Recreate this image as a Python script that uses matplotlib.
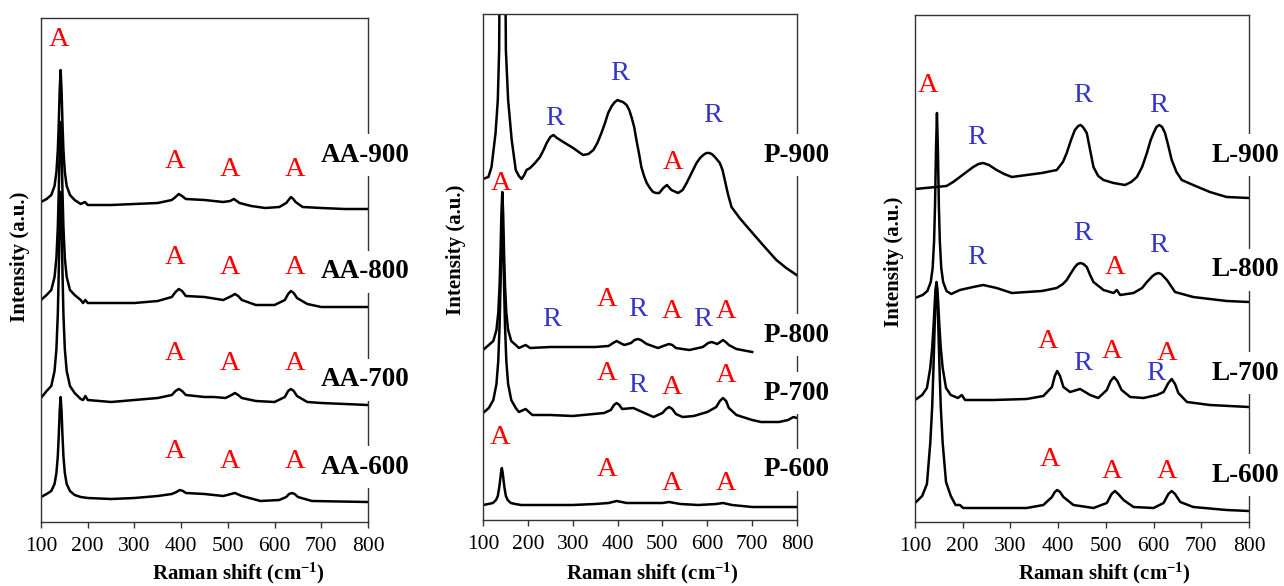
import matplotlib
matplotlib.use("Agg")
import matplotlib.pyplot as plt

plt.rcParams['font.family'] = ['Liberation Serif', 'DejaVu Serif']
plt.rcParams['mathtext.fontset'] = 'custom'
plt.rcParams['mathtext.rm'] = 'Liberation Serif:bold'
plt.rcParams['mathtext.it'] = 'Liberation Serif:bold'
plt.rcParams['mathtext.bf'] = 'Liberation Serif:bold'

# ---------------- data (Raman shift in cm-1, intensity in a.u.) ----------------
x_ticks = [100, 200, 300, 400, 500, 600, 700, 800]

# Panel AA
aa900_x = [100, 112, 122, 129, 133, 136, 138, 140, 142, 144, 146, 148, 151, 155, 162, 172, 185, 194, 200,
           250, 300, 350, 380, 388, 395, 402, 410, 450, 490, 505, 513, 525, 550, 580, 610, 625, 630, 635, 640,
           645, 660, 700, 750, 800]
aa900_y = [320, 323, 327, 336, 350, 372, 398, 432, 452, 432, 398, 372, 350, 336, 327, 322, 318, 320, 317,
           317, 318, 319, 322, 325, 328, 326, 323, 322, 320, 321, 323, 319, 316, 314, 315, 319, 322, 325, 323,
           320, 315, 314, 313, 313]

aa800_x = [100, 112, 122, 129, 133, 136, 138, 140, 142, 144, 146, 148, 151, 155, 162, 172, 185, 190, 195, 200,
           250, 300, 350, 380, 388, 395, 402, 410, 450, 490, 508, 515, 522, 530, 560, 600, 622, 629, 635, 641,
           648, 670, 700, 800]
aa800_y = [222, 227, 232, 245, 264, 295, 330, 375, 400, 375, 330, 295, 264, 245, 232, 227, 222, 219, 222, 219,
           219, 219, 221, 225, 230, 233, 231, 226, 225, 222, 226, 228, 226, 222, 217, 217, 222, 228, 231, 229,
           224, 218, 215, 215]

aa700_x = [100, 112, 122, 129, 133, 136, 138, 140, 142, 144, 146, 148, 151, 155, 162, 172, 185, 190, 195, 200,
           250, 300, 350, 380, 388, 395, 402, 410, 450, 470, 495, 508, 515, 522, 530, 560, 600, 622, 629, 635,
           641, 648, 670, 700, 800]
aa700_y = [124, 131, 136, 151, 173, 208, 250, 302, 330, 302, 250, 208, 173, 151, 136, 129, 123, 122, 126, 122,
           120, 122, 124, 127, 131, 133, 131, 127, 125, 125, 124, 127, 129, 127, 124, 121, 120, 125, 131, 133,
           131, 126, 120, 119, 117]

aa600_x = [100, 112, 122, 129, 133, 136, 138, 140, 142, 144, 146, 148, 151, 155, 162, 172, 185, 200,
           250, 300, 350, 380, 390, 397, 404, 410, 450, 490, 515, 530, 570, 610, 625, 631, 637, 643, 650, 680, 800]
aa600_y = [25, 28, 31, 38, 49, 66, 86, 111, 125, 111, 86, 66, 49, 38, 31, 27, 25, 24,
           23, 24, 26, 28, 30, 32, 31, 29, 28, 26, 29, 26, 21, 22, 25, 28, 29, 28, 25, 21, 20]

# Panel P
p900_x = [100, 112, 119, 128, 133, 136, 143, 151, 156, 164, 173, 180, 186, 192, 197, 205, 216, 227, 235, 242,
          250, 257, 265, 279, 301, 323, 335, 346, 355, 364, 372, 379, 387, 394, 400, 405, 412, 420, 426, 431,
          437, 442, 448, 453, 459, 465, 472, 479, 486, 493, 502, 510, 520, 535, 545, 554, 565, 576, 584, 591,
          598, 604, 610, 617, 628, 634, 639, 646, 654, 672, 695, 724, 754, 776, 799]
p900_y = [341, 343, 353, 387, 420, 470, 1000, 470, 420, 380, 350, 344, 341, 345, 350, 352, 357, 363, 370, 377,
          383, 385, 382, 378, 372, 365, 366, 370, 377, 387, 397, 407, 414, 418, 420, 419, 418, 415, 410, 403,
          393, 380, 366, 353, 344, 337, 332, 328, 327, 327, 332, 335, 330, 327, 330, 337, 347, 357, 362, 365,
          367, 367, 366, 363, 357, 350, 340, 326, 313, 302, 290, 275, 260, 252, 245]

p800_x = [100, 113, 123, 130, 134, 137, 139, 141, 143, 145, 147, 149, 152, 156, 163, 173, 180, 195, 205, 250,
          350, 380, 390, 398, 406, 415, 430, 438, 445, 452, 465, 490, 508, 515, 522, 530, 560, 590, 602, 610,
          622, 629, 635, 641, 648, 665, 700]
p800_y = [170, 175, 179, 190, 207, 235, 266, 306, 328, 306, 266, 235, 207, 190, 179, 175, 172, 175, 172, 173,
          173, 174, 177, 179, 177, 175, 177, 180, 181, 180, 176, 172, 175, 176, 175, 172, 170, 173, 177, 178,
          176, 178, 180, 178, 175, 171, 168]

p700_x = [100, 113, 123, 130, 134, 137, 139, 141, 143, 145, 147, 149, 152, 156, 163, 173, 180, 195, 210, 250,
          300, 370, 385, 392, 398, 404, 410, 435, 455, 480, 500, 508, 515, 522, 530, 545, 570, 600, 620, 628,
          635, 642, 648, 665, 700, 720, 760, 780, 792, 800]
p700_y = [107, 112, 120, 136, 159, 195, 233, 277, 300, 277, 233, 195, 159, 136, 120, 112, 108, 111, 105, 105,
          104, 107, 110, 115, 117, 115, 111, 112, 108, 103, 107, 111, 113, 111, 106, 103, 104, 108, 113, 119,
          122, 119, 112, 105, 100, 98, 98, 100, 103, 102]

p600_x = [100, 112, 122, 129, 133, 136, 138, 140, 142, 144, 146, 148, 151, 155, 162, 172, 185, 200, 300, 350,
          380, 398, 420, 500, 515, 540, 580, 620, 635, 655, 700, 800]
p600_y = [15, 16, 17, 20, 24, 32, 39, 47, 52, 47, 39, 32, 24, 20, 17, 16, 15, 15, 15, 16,
          17, 19, 17, 17, 18, 16, 15, 16, 17, 15, 13, 13]

# Panel L
l900_x = [100, 166, 180, 194, 208, 222, 233, 243, 255, 271, 287, 303, 334, 366, 397, 410, 418, 427, 435, 442,
          447, 452, 460, 467, 474, 484, 495, 516, 540, 553, 565, 576, 586, 594, 600, 606, 612, 618, 624, 631,
          638, 648, 659, 683, 718, 753, 800]
l900_y = [333, 336, 340, 345, 350, 355, 358, 359, 357, 352, 348, 345, 347, 349, 352, 360, 369, 382, 392, 396,
          397, 395, 389, 372, 355, 346, 342, 339, 337, 340, 345, 355, 369, 382, 389, 395, 397, 395, 389, 376,
          362, 350, 342, 337, 330, 325, 324]

l800_x = [100, 116, 126, 133, 137, 140, 142, 144, 146, 148, 150, 152, 155, 159, 166, 176, 194, 222, 243, 271,
          303, 366, 397, 410, 418, 427, 435, 441, 447, 453, 460, 467, 474, 495, 516, 523, 530, 558, 576, 586,
          598, 604, 610, 616, 628, 645, 683, 753, 800]
l800_y = [224, 227, 231, 240, 254, 281, 317, 372, 409, 372, 317, 281, 254, 240, 231, 228, 232, 235, 237, 234,
          229, 231, 234, 238, 242, 249, 255, 258, 259, 258, 255, 247, 240, 232, 229, 232, 227, 229, 234, 240,
          246, 248, 249, 248, 242, 230, 225, 221, 220]

l700_x = [100, 115, 125, 132, 136, 139, 141, 143, 145, 147, 149, 151, 154, 158, 165, 175, 190, 198, 205, 264,
          334, 369, 387, 393, 398, 404, 411, 425, 446, 467, 484, 502, 510, 517, 524, 533, 551, 579, 607, 621,
          631, 638, 645, 652, 670, 718, 800]
l700_y = [122, 127, 134, 154, 174, 197, 216, 233, 240, 233, 216, 197, 174, 154, 134, 127, 124, 127, 122, 122,
          123, 126, 135, 146, 151, 146, 135, 130, 133, 127, 124, 132, 141, 145, 141, 132, 125, 124, 127, 130,
          139, 143, 138, 129, 120, 117, 115]

l600_x = [100, 115, 125, 132, 136, 139, 141, 143, 145, 147, 149, 151, 154, 158, 165, 175, 185, 194, 201, 264,
          334, 369, 387, 393, 398, 404, 411, 432, 474, 502, 512, 519, 526, 537, 558, 600, 621, 631, 638, 645,
          656, 683, 753, 800]
l600_y = [19, 26, 38, 79, 115, 159, 193, 224, 237, 224, 193, 159, 115, 79, 40, 26, 17, 17, 14, 14,
          14, 17, 25, 30, 32, 30, 25, 17, 14, 19, 28, 31, 28, 22, 15, 14, 19, 28, 31, 28,
          20, 15, 12, 11]

# sample names and their label heights
aa_names = ['AA-900', 'AA-800', 'AA-700', 'AA-600']
aa_name_y = [367, 250, 142, 55]
p_names = ['P-900', 'P-800', 'P-700', 'P-600']
p_name_y = [365, 185, 127, 50]
l_names = ['L-900', 'L-800', 'L-700', 'L-600']
l_name_y = [367, 252, 149, 47]

# phase marks: (letter, x, y)
aa_marks = [('A', 139, 482),
            ('A', 387, 361), ('A', 505, 352), ('A', 644, 352),
            ('A', 387, 265), ('A', 505, 255), ('A', 644, 255),
            ('A', 387, 169), ('A', 505, 159), ('A', 644, 159),
            ('A', 387, 70), ('A', 505, 60), ('A', 644, 60)]
p_marks = [('A', 140, 337), ('R', 260, 402), ('R', 405, 447), ('A', 523, 358), ('R', 612, 405),
           ('R', 254, 200), ('A', 376, 220), ('R', 445, 210), ('A', 521, 208), ('R', 590, 200), ('A', 641, 208),
           ('A', 376, 147), ('R', 445, 135), ('A', 521, 133), ('A', 641, 145),
           ('A', 138, 82), ('A', 376, 50), ('A', 521, 37), ('A', 641, 37)]
l_marks = [('A', 127, 437), ('R', 230, 385), ('R', 452, 427), ('R', 611, 416),
           ('R', 230, 264), ('R', 452, 288), ('A', 519, 255), ('R', 611, 276),
           ('A', 379, 180), ('R', 452, 159), ('A', 513, 170), ('R', 605, 149), ('A', 628, 169),
           ('A', 383, 62), ('A', 513, 50), ('A', 628, 50)]

# ---------------- figure ----------------
W, H = 1284, 586
fig = plt.figure(figsize=(W / 100, H / 100), dpi=100)

def frac_box(l, t, r, b):
    return [l / W, 1 - b / H, (r - l) / W, (b - t) / H]

panels = [
    (frac_box(41, 18, 368, 522), 504,
     [(aa900_x, aa900_y), (aa800_x, aa800_y), (aa700_x, aa700_y), (aa600_x, aa600_y)],
     aa_names, aa_name_y, aa_marks, 794),
    (frac_box(483, 14, 797, 520), 506,
     [(p900_x, p900_y), (p800_x, p800_y), (p700_x, p700_y), (p600_x, p600_y)],
     p_names, p_name_y, p_marks, 800),
    (frac_box(915, 15, 1249, 522), 507,
     [(l900_x, l900_y), (l800_x, l800_y), (l700_x, l700_y), (l600_x, l600_y)],
     l_names, l_name_y, l_marks, 792),
]

RED = '#FF0000'
BLUE = '#3535C8'
SPINE = '#333333'

for box, ytop, curves, names, name_y, marks, name_x in panels:
    ax = fig.add_axes(box)
    for xs, ys in curves:
        ax.plot(xs, ys, color='black', lw=1.8, solid_joinstyle='round')
    ax.set_xlim(100, 800)
    ax.set_ylim(0, ytop)
    ax.set_xticks(x_ticks)
    ax.set_yticks([])
    ax.tick_params(axis='x', direction='out', length=4, width=1, color=SPINE,
                   labelsize=15.5, pad=7)
    for s in ax.spines.values():
        s.set_color(SPINE)
        s.set_linewidth(1.0)
    for letter, mx, my in marks:
        ax.text(mx, my, letter, color=RED if letter == 'A' else BLUE,
                fontsize=20.5, ha='center', va='center', zorder=4)
    for nm, ny in zip(names, name_y):
        ax.text(name_x, ny, nm, fontsize=19.5, fontweight='bold', ha='center', va='center',
                clip_on=False, zorder=5,
                bbox=dict(boxstyle='square,pad=0.3', fc='white', ec='none'))

# axis titles
for cx in [238, 652, 1104]:
    fig.text(cx / W, 1 - 573 / H, 'Raman shift (cm$^{-1}$)', fontsize=15, fontweight='bold',
             ha='center', va='center')
for cx, cy in [(20, 257), (456, 250), (894, 262)]:
    fig.text(cx / W, 1 - cy / H, 'Intensity (a.u.)', fontsize=15, fontweight='bold',
             rotation=90, ha='center', va='center')

fig.savefig('out.png', dpi=100, facecolor='white')
